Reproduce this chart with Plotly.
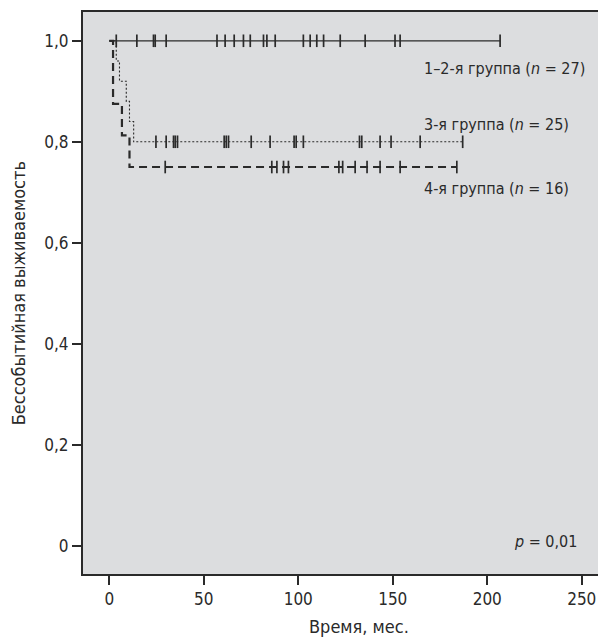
import plotly.graph_objects as go

# ---- data ----
n_g12 = 27
events_g12 = []
censor_g12 = [3.7, 14.6, 23.4, 24.3, 30.1, 57.0, 61.3, 66.1, 71.0, 74.6, 81.6, 83.4,
              87.8, 102.7, 106.3, 109.8, 113.4, 122.2, 135.4, 151.2, 153.9, 206.8]

n_g3 = 25
events_g3 = [3.7, 5.4, 9.0, 10.7, 12.9]
censor_g3 = [24.7, 30.1, 34.0, 34.9, 36.1, 60.8, 61.9, 63.1, 75.1, 85.1, 97.8, 98.9,
             102.7, 132.4, 133.6, 143.3, 149.1, 164.5, 187.0]

n_g4 = 16
events_g4 = [2.0, 2.0, 6.7, 10.7]
censor_g4 = [29.6, 86.0, 88.7, 92.2, 94.8, 121.5, 123.5, 130.1, 136.4, 143.3, 153.9, 183.9]

labels = ["1–2-я группа (<i>n</i> = 27)", "3-я группа (<i>n</i> = 25)", "4-я группа (<i>n</i> = 16)"]
label_y = [0.945, 0.835, 0.708]
label_x = 165.4
p_text = "<i>p</i> = 0,01"
x_ticks = [0, 50, 100, 150, 200, 250]
y_ticks = [0, 0.2, 0.4, 0.6, 0.8, 1.0]
y_tick_text = ["0", "0,2", "0,4", "0,6", "0,8", "1,0"]
x_title = "Время, мес."
y_title = "Бессобытийная выживаемость"


def km(n, events, censors):
    """Kaplan-Meier step curve + survival values at censor times."""
    recs = [(t, 1) for t in events] + [(t, 0) for t in censors]
    recs.sort(key=lambda r: (r[0], -r[1]))
    at_risk = n
    s = 1.0
    xs, ys = [0.0], [1.0]
    cx, cy = [], []
    i = 0
    while i < len(recs):
        t = recs[i][0]
        d = sum(1 for r in recs if r[0] == t and r[1] == 1)
        c = sum(1 for r in recs if r[0] == t and r[1] == 0)
        if d:
            s *= (at_risk - d) / at_risk
            xs.append(t); ys.append(s)
        for _ in range(c):
            cx.append(t); cy.append(s)
        at_risk -= d + c
        i += d + c
    last = max(events + censors)
    xs.append(last); ys.append(s)
    return xs, ys, cx, cy


FONT = "DejaVu Sans Condensed, Liberation Sans Narrow, Roboto, sans-serif"
FS = 18
FS_TICK = 17
FS_ANN = 16
DARK = "#2a2a2a"

fig = go.Figure()

groups = [
    (n_g3, events_g3, censor_g3, dict(width=1.1, dash="2px,2px")),
    (n_g4, events_g4, censor_g4, dict(width=2.2, dash="8px,5px")),
    (n_g12, events_g12, censor_g12, dict(width=1.3, dash="solid")),
]
for n, ev, ce, ls in groups:
    xs, ys, cx, cy = km(n, ev, ce)
    fig.add_trace(go.Scatter(x=xs, y=ys, mode="lines", line_shape="hv",
                             line=dict(color=DARK, **ls), showlegend=False, hoverinfo="skip"))
    fig.add_trace(go.Scatter(x=cx, y=cy, mode="markers", showlegend=False, hoverinfo="skip",
                             marker=dict(symbol="line-ns", size=9,
                                         line=dict(color=DARK, width=1.7))))

for txt, yy in zip(labels, label_y):
    fig.add_annotation(x=label_x, y=yy, text=txt, showarrow=False, xanchor="left",
                       yanchor="middle", font=dict(family=FONT, size=FS_ANN, color=DARK))

fig.add_annotation(x=248.5, y=0.008, text=p_text, showarrow=False, xanchor="right",
                   yanchor="middle", font=dict(family=FONT, size=FS_ANN, color=DARK))

fig.add_annotation(x=132.2, xref="x", y=-0.094, yref="paper", text=x_title, showarrow=False,
                   xanchor="center", yanchor="middle", font=dict(family=FONT, size=FS, color=DARK))
fig.add_annotation(x=-0.1256, xref="paper", y=0.5, yref="paper", text=y_title, showarrow=False,
                   textangle=-90, xanchor="center", yanchor="middle",
                   font=dict(family=FONT, size=FS, color=DARK))

fig.update_layout(
    width=598, height=643,
    margin=dict(l=83, r=0, t=12, b=69),
    paper_bgcolor="white",
    plot_bgcolor="#dcdddf",
    font=dict(family=FONT, size=FS, color=DARK),
)
fig.update_xaxes(range=[-13.9, 258.6], tickvals=x_ticks, ticks="outside", ticklen=9,
                 tickwidth=1.5, tickcolor=DARK, showgrid=False, zeroline=False,
                 showline=True, linecolor=DARK, linewidth=2, mirror=True,
                 tickfont=dict(family=FONT, size=FS_TICK, color=DARK))
fig.update_yaxes(range=[-0.056, 1.057], tickvals=y_ticks, ticktext=y_tick_text,
                 ticks="outside", ticklen=9, tickwidth=1.5, tickcolor=DARK, showgrid=False,
                 zeroline=False, showline=True, linecolor=DARK, linewidth=2, mirror=False,
                 tickfont=dict(family=FONT, size=FS_TICK, color=DARK))

# remove the page's default body margin so the 598x643 figure fills the window exactly
fig.write_html("out.html",
               config={"displayModeBar": False},
               post_script="document.body.style.margin='0';document.body.style.overflow='hidden';")
